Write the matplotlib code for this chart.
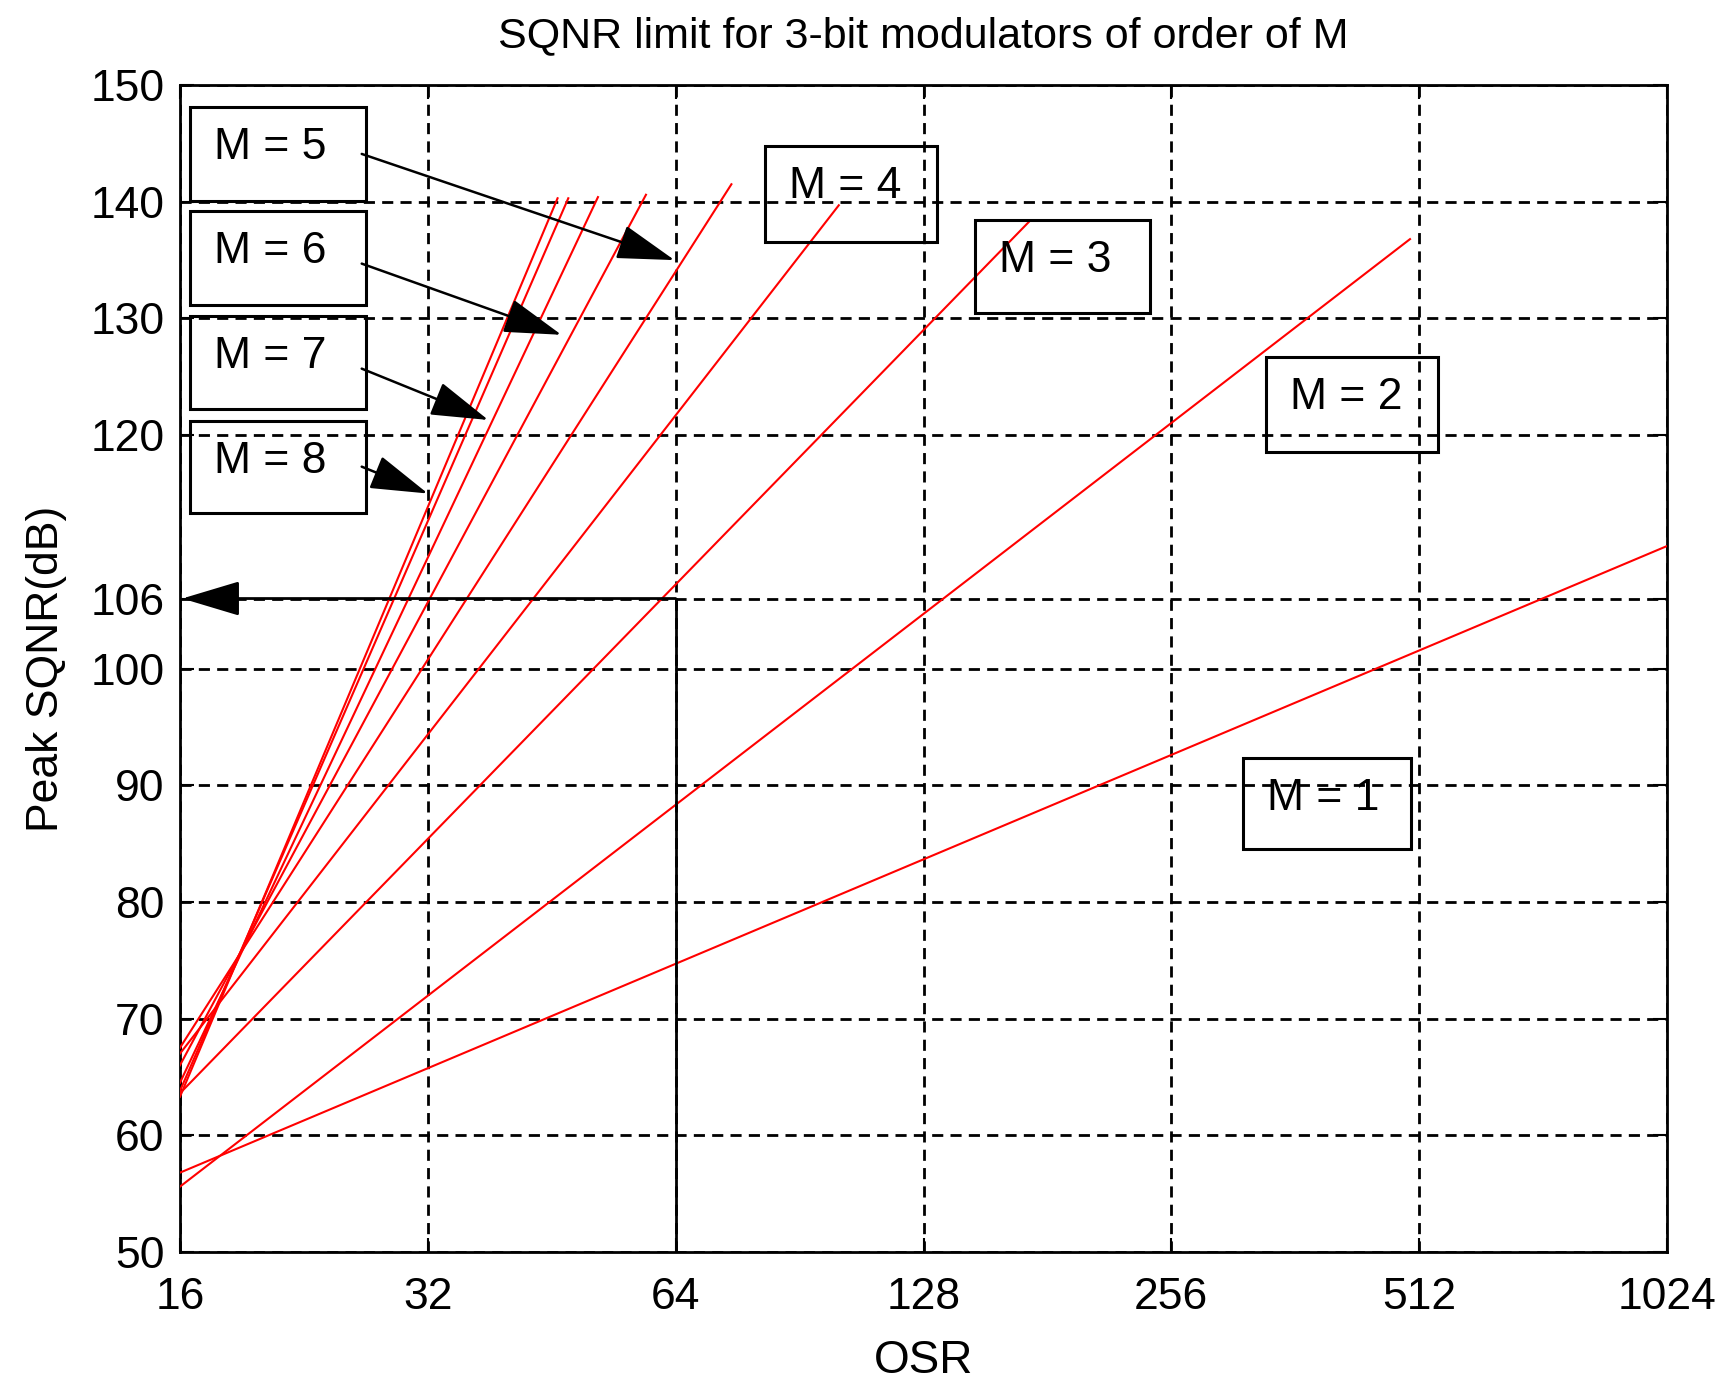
import matplotlib
matplotlib.use("Agg")
import matplotlib.pyplot as plt
from matplotlib.patches import Rectangle
from matplotlib.ticker import FixedLocator, FixedFormatter, NullLocator

plt.rcParams['font.family'] = ['Liberation Sans', 'DejaVu Sans']

# ---- data ----
orders = [1, 2, 3, 4, 5, 6, 7, 8, 9]
osr_start = [16, 16, 16, 16, 16, 16, 16, 16, 16]
sqnr_start = [56.8, 55.6, 63.6, 67.0, 67.5, 66.0, 64.5, 63.8, 63.3]
osr_end = [1024, 499, 172, 101, 74.8, 58.9, 51.5, 47.4, 46.0]
sqnr_end = [110.5, 136.8, 138.3, 139.7, 141.5, 140.6, 140.4, 140.3, 140.3]

x_ticks = [16, 32, 64, 128, 256, 512, 1024]
y_ticks = [50, 60, 70, 80, 90, 100, 106, 120, 130, 140, 150]

target_osr = 64
target_sqnr = 106

box_labels = ["M = 5", "M = 6", "M = 7", "M = 8", "M = 4", "M = 3", "M = 2", "M = 1"]
arrow_labels = ["M = 5", "M = 6", "M = 7", "M = 8"]
arrow_start_osr = [26.6, 26.6, 26.6, 26.6]
arrow_start_sqnr = [144.1, 134.7, 125.7, 117.3]
arrow_end_osr = [63.8, 46.5, 37.9, 32.0]
arrow_end_sqnr = [135.0, 128.6, 121.3, 115.0]

# ---- layout ----
fig = plt.figure(figsize=(17.22, 13.81), dpi=100)
ax = fig.add_axes([0.1045, 0.0934, 0.8636, 0.8450])

for i in range(len(orders)):
    ax.plot([osr_start[i], osr_end[i]], [sqnr_start[i], sqnr_end[i]],
            color='#ff0000', lw=1.5, zorder=3)

ax.set_xscale('log', base=2)
ax.set_xlim(16, 1024)
ax.set_ylim(50, 150)
ax.xaxis.set_major_locator(FixedLocator(x_ticks))
ax.xaxis.set_major_formatter(FixedFormatter([str(v) for v in x_ticks]))
ax.xaxis.set_minor_locator(NullLocator())
ax.yaxis.set_major_locator(FixedLocator(y_ticks))
ax.yaxis.set_major_formatter(FixedFormatter([str(v) for v in y_ticks]))

ax.grid(True, color='black', lw=2.0, linestyle=(0, (4.0, 2.6)), zorder=1)
ax.tick_params(direction='in', length=10, width=1.5, top=True, right=True,
               labelsize=32, pad=11, colors='black')
ax.tick_params(axis='x', pad=18)
for s in ax.spines.values():
    s.set_linewidth(2)
    s.set_color('black')

ax.set_title("SQNR limit for 3-bit modulators of order of M", fontsize=31, pad=27)
ax.set_xlabel("OSR", fontsize=33, labelpad=15)
ax.set_ylabel("Peak SQNR(dB)", fontsize=32, labelpad=17)

# 106 dB marker
ax.plot([target_osr, target_osr], [50, target_sqnr], color='black', lw=2, zorder=4)
ax.annotate("", xy=(16.1, target_sqnr), xytext=(target_osr, target_sqnr),
            arrowprops=dict(arrowstyle='-|>,head_length=1.4,head_width=0.42',
                            mutation_scale=26, color='black', lw=2, shrinkA=0, shrinkB=0),
            zorder=5)

# annotation arrows
for i in range(len(arrow_labels)):
    ax.annotate("", xy=(arrow_end_osr[i], arrow_end_sqnr[i]),
                xytext=(arrow_start_osr[i], arrow_start_sqnr[i]),
                arrowprops=dict(arrowstyle='-|>,head_length=1.4,head_width=0.42',
                                mutation_scale=26, color='black', lw=1.8,
                                shrinkA=0, shrinkB=0),
                zorder=5)

# text boxes in axes fraction (x0, x1, y_bottom, y_top)
box_geom = [
    (0.0067, 0.1251, 0.9006, 0.9816),
    (0.0067, 0.1251, 0.8115, 0.8920),
    (0.0067, 0.1251, 0.7228, 0.8020),
    (0.0067, 0.1251, 0.6332, 0.7125),
    (0.3934, 0.5091, 0.8659, 0.9477),
    (0.5346, 0.6523, 0.8046, 0.8847),
    (0.7303, 0.8460, 0.6855, 0.7669),
    (0.7149, 0.8278, 0.3453, 0.4233),
]
for lab, (x0, x1, y0, y1) in zip(box_labels, box_geom):
    ax.add_patch(Rectangle((x0, y0), x1 - x0, y1 - y0, transform=ax.transAxes,
                           fill=False, edgecolor='black', lw=2.2, zorder=6, clip_on=False))
    ax.text(x0 + 0.016, y1 - 0.035, lab, transform=ax.transAxes, fontsize=32,
            ha='left', va='center', zorder=7)

fig.savefig("out.png", dpi=100)
